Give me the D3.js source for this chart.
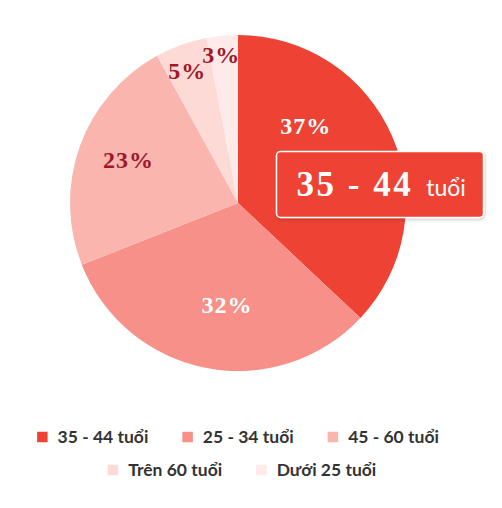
<!DOCTYPE html>
<html>
<head>
<meta charset="utf-8">
<script src="https://cdn.jsdelivr.net/npm/d3@7"></script>
<style>
  html, body { margin: 0; padding: 0; background: #ffffff; }
  svg { display: block; }
</style>
</head>
<body>
<svg id="chart" width="502" height="508"></svg>
<script>
// ---- data ----
const categories = ["35 - 44 tuổi", "25 - 34 tuổi", "45 - 60 tuổi", "Trên 60 tuổi", "Dưới 25 tuổi"];
const values = [37, 32, 23, 5, 3];
const colors = ["#ee4334", "#f69088", "#f9b5ae", "#fddad6", "#feeae8"];
const labelColors = ["#ffffff", "#ffffff", "#a01828", "#a01828", "#a01828"];
// label placement: fraction of slice angle, fraction of radius
const labelAngleFrac = [0.31, 0.46, 0.52, 0.43, 0.40];
const labelRadiusFrac = [0.61, 0.61, 0.70, 0.84, 0.89];
const highlighted = 0;
const tooltipMain = "35 - 44";
const tooltipUnit = "tuổi";

// ---- layout ----
const svg = d3.select("#chart");
const cx = 238, cy = 203, R = 168;

const pie = d3.pie().sort(null).value(d => d).startAngle(0).endAngle(2 * Math.PI);
const arcs = pie(values);
const arc = d3.arc().innerRadius(0).outerRadius(R);

const g = svg.append("g").attr("transform", `translate(${cx},${cy})`);

g.selectAll("path.slice")
  .data(arcs)
  .join("path")
  .attr("class", "slice")
  .attr("d", arc)
  .attr("fill", (d, i) => colors[i]);

g.selectAll("text.pct")
  .data(arcs)
  .join("text")
  .attr("class", "pct")
  .attr("transform", (d, i) => {
    const a = d.startAngle + (d.endAngle - d.startAngle) * labelAngleFrac[i];
    const r = R * labelRadiusFrac[i];
    return `translate(${r * Math.sin(a)},${-r * Math.cos(a)})`;
  })
  .attr("text-anchor", "middle")
  .attr("dy", "0.34em")
  .attr("font-family", "'Liberation Serif', serif")
  .attr("font-weight", "bold")
  .attr("font-size", 24)
  .attr("letter-spacing", 1)
  .attr("fill", (d, i) => labelColors[i])
  .text(d => d.data + "%");

// ---- tooltip ----
const defs = svg.append("defs");
const f = defs.append("filter").attr("id", "shadow").attr("x", "-10%").attr("y", "-20%").attr("width", "130%").attr("height", "150%");
f.append("feDropShadow").attr("dx", 1).attr("dy", 1.5).attr("stdDeviation", 1.5).attr("flood-color", "#000").attr("flood-opacity", 0.2);

const tip = svg.append("g").attr("transform", "translate(276.5,151.5)");
tip.append("rect")
  .attr("width", 207).attr("height", 66).attr("rx", 4)
  .attr("fill", colors[highlighted]).attr("stroke", "#ffffff").attr("stroke-width", 1.5)
  .attr("filter", "url(#shadow)");
const tt = tip.append("text").attr("x", 20).attr("y", 44).attr("fill", "#ffffff");
tt.append("tspan").attr("font-family", "'Liberation Serif', serif").attr("font-weight", "bold")
  .attr("font-size", 35).attr("letter-spacing", 2.5).text(tooltipMain);
tt.append("tspan").attr("font-family", "Lato, sans-serif").attr("font-size", 23).attr("dx", 13).text(tooltipUnit);

// ---- legend ----
const rows = [[0, 1, 2], [3, 4]];
const rowY = [437, 470];
const rowCenter = [238, 242];
const sq = 10.5, gapSqText = 10, gapItems = 34;
const legend = svg.append("g");
rows.forEach((items, ri) => {
  const row = legend.append("g");
  let x = 0;
  items.forEach(i => {
    const it = row.append("g").attr("transform", `translate(${x},0)`);
    it.append("rect").attr("x", 0).attr("y", -sq / 2).attr("width", sq).attr("height", sq).attr("fill", colors[i]);
    const t = it.append("text").attr("x", sq + gapSqText).attr("dy", "0.36em")
      .attr("font-family", "Lato, sans-serif").attr("font-weight", "bold").attr("font-size", 17.5)
      .attr("fill", "#333333").text(categories[i]);
    x += sq + gapSqText + t.node().getComputedTextLength() + gapItems;
  });
  const total = x - gapItems;
  row.attr("transform", `translate(${rowCenter[ri] - total / 2},${rowY[ri]})`);
});
</script>
</body>
</html>
